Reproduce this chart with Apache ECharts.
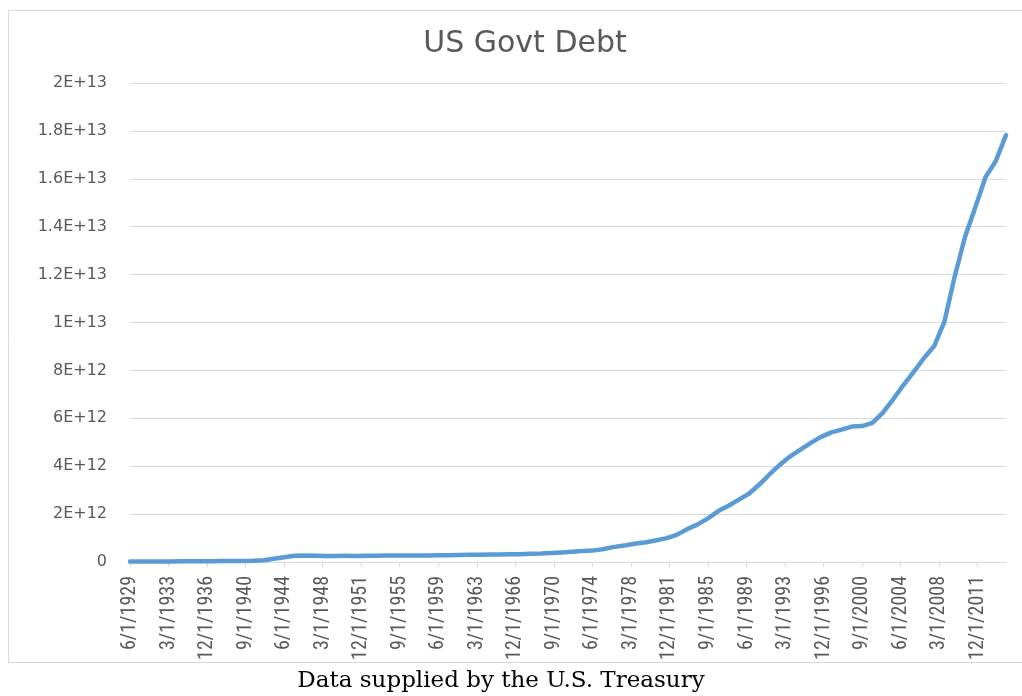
<!DOCTYPE html>
<html>
<head>
<meta charset="utf-8">
<script src="https://cdn.jsdelivr.net/npm/echarts@6/dist/echarts.min.js"></script>
<style>
html,body{margin:0;padding:0;background:#fff;}
#chart{width:1022px;height:696px;}
</style>
</head>
<body>
<div id="chart"></div>
<script>
// Fiscal-year-end dates of the data points
var dates = [
 '6/1/1929','6/1/1930','6/1/1931','6/1/1932','6/1/1933','6/1/1934','6/1/1935','6/1/1936','6/1/1937','6/1/1938',
 '6/1/1939','6/1/1940','6/1/1941','6/1/1942','6/1/1943','6/1/1944','6/1/1945','6/1/1946','6/1/1947','6/1/1948',
 '6/1/1949','6/1/1950','6/1/1951','6/1/1952','6/1/1953','6/1/1954','6/1/1955','6/1/1956','6/1/1957','6/1/1958',
 '6/1/1959','6/1/1960','6/1/1961','6/1/1962','6/1/1963','6/1/1964','6/1/1965','6/1/1966','6/1/1967','6/1/1968',
 '6/1/1969','6/1/1970','6/1/1971','6/1/1972','6/1/1973','6/1/1974','6/1/1975','6/1/1976','9/1/1977','9/1/1978',
 '9/1/1979','9/1/1980','9/1/1981','9/1/1982','9/1/1983','9/1/1984','9/1/1985','9/1/1986','9/1/1987','9/1/1988',
 '9/1/1989','9/1/1990','9/1/1991','9/1/1992','9/1/1993','9/1/1994','9/1/1995','9/1/1996','9/1/1997','9/1/1998',
 '9/1/1999','9/1/2000','9/1/2001','9/1/2002','9/1/2003','9/1/2004','9/1/2005','9/1/2006','9/1/2007','9/1/2008',
 '9/1/2009','9/1/2010','9/1/2011','9/1/2012','9/1/2013','9/1/2014'
];
// Debt outstanding (US dollars)
var debt = [
 16.9e9, 16.2e9, 16.8e9, 19.5e9, 22.5e9, 27.1e9, 28.7e9, 33.8e9, 36.4e9, 37.2e9,
 40.4e9, 43.0e9, 49.0e9, 72.4e9, 136.7e9, 201.0e9, 258.7e9, 269.4e9, 258.3e9, 252.3e9,
 252.8e9, 257.4e9, 255.2e9, 259.1e9, 266.1e9, 271.3e9, 274.4e9, 272.8e9, 270.5e9, 276.3e9,
 284.7e9, 286.3e9, 289.0e9, 298.2e9, 305.9e9, 311.7e9, 317.3e9, 319.9e9, 326.2e9, 347.6e9,
 353.7e9, 370.9e9, 398.1e9, 427.3e9, 458.1e9, 475.1e9, 533.2e9, 620.4e9, 698.8e9, 771.5e9,
 826.5e9, 907.7e9, 997.9e9, 1142.0e9, 1377.2e9, 1572.3e9, 1823.1e9, 2125.3e9, 2350.3e9, 2602.3e9,
 2857.4e9, 3233.3e9, 3665.3e9, 4064.6e9, 4411.5e9, 4692.7e9, 4974.0e9, 5224.8e9, 5413.1e9, 5526.2e9,
 5656.3e9, 5674.2e9, 5807.5e9, 6228.2e9, 6783.2e9, 7379.1e9, 7932.7e9, 8506.9e9, 9007.7e9, 10024.7e9,
 11909.8e9, 13561.6e9, 14790.3e9, 16066.2e9, 16738.2e9, 17824.1e9
];
var xTickLabels = ['6/1/1929','3/1/1933','12/1/1936','9/1/1940','6/1/1944','3/1/1948','12/1/1951','9/1/1955',
 '6/1/1959','3/1/1963','12/1/1966','9/1/1970','6/1/1974','3/1/1978','12/1/1981','9/1/1985','6/1/1989',
 '3/1/1993','12/1/1996','9/1/2000','6/1/2004','3/1/2008','12/1/2011'];
var yTickLabels = ['0','2E+12','4E+12','6E+12','8E+12','1E+13','1.2E+13','1.4E+13','1.6E+13','1.8E+13','2E+13'];
var yStep = 2e12;

function monthIndex(s){
  var p = s.split('/');
  return (parseInt(p[2],10) - 1929) * 12 + (parseInt(p[0],10) - 6);
}
var xTickValues = xTickLabels.map(monthIndex);
var labelByValue = {};
xTickLabels.forEach(function(l){ labelByValue[monthIndex(l)] = l; });
var seriesData = dates.map(function(d,i){ return [monthIndex(d), debt[i]]; });

var chart = echarts.init(document.getElementById('chart'), null, {renderer:'canvas'});
chart.setOption({
  animation:false,
  backgroundColor:'#ffffff',
  grid:{left:130, right:16, top:83, bottom:134, containLabel:false},
  xAxis:{
    type:'value',
    min:0,
    max:monthIndex(dates[dates.length-1]),
    splitLine:{show:false},
    axisLine:{show:true, lineStyle:{color:'#d9d9d9', width:1}},
    axisTick:{show:true, length:5, lineStyle:{color:'#d9d9d9'}, customValues:xTickValues},
    axisLabel:{
      rotate:90, margin:14, color:'#595959', fontSize:20,
      fontFamily:"'Liberation Sans Narrow', 'Roboto Condensed', 'DejaVu Sans Condensed', sans-serif",
      customValues:xTickValues,
      formatter:function(v){ return labelByValue[v] || ''; }
    }
  },
  yAxis:{
    type:'value', min:0, max:2e13, interval:yStep,
    axisLine:{show:false}, axisTick:{show:false},
    splitLine:{lineStyle:{color:'#d9d9d9', width:1}},
    axisLabel:{
      margin:23, color:'#595959', fontSize:16, fontFamily:"'DejaVu Sans', sans-serif",
      formatter:function(v){ return yTickLabels[Math.round(v / yStep)]; }
    }
  },
  series:[{
    type:'line', data:seriesData, showSymbol:false, smooth:false,
    lineStyle:{color:'#5b9bd5', width:4.5, cap:'round', join:'round'}
  }],
  graphic:[
    {type:'rect', shape:{x:8.5, y:10.5, width:1040, height:652}, style:{fill:'none', stroke:'#d9d9d9', lineWidth:1}, silent:true},
    {type:'text', x:525, y:44, style:{text:'US Govt Debt', fontSize:30, fontFamily:"'DejaVu Sans', sans-serif", fill:'#595959', textAlign:'center', textVerticalAlign:'middle'}},
    {type:'text', x:501, y:681, style:{text:'Data supplied by the U.S. Treasury', fontSize:23, fontFamily:"'DejaVu Serif', serif", fill:'#000000', textAlign:'center', textVerticalAlign:'middle'}}
  ]
});
</script>
</body>
</html>
